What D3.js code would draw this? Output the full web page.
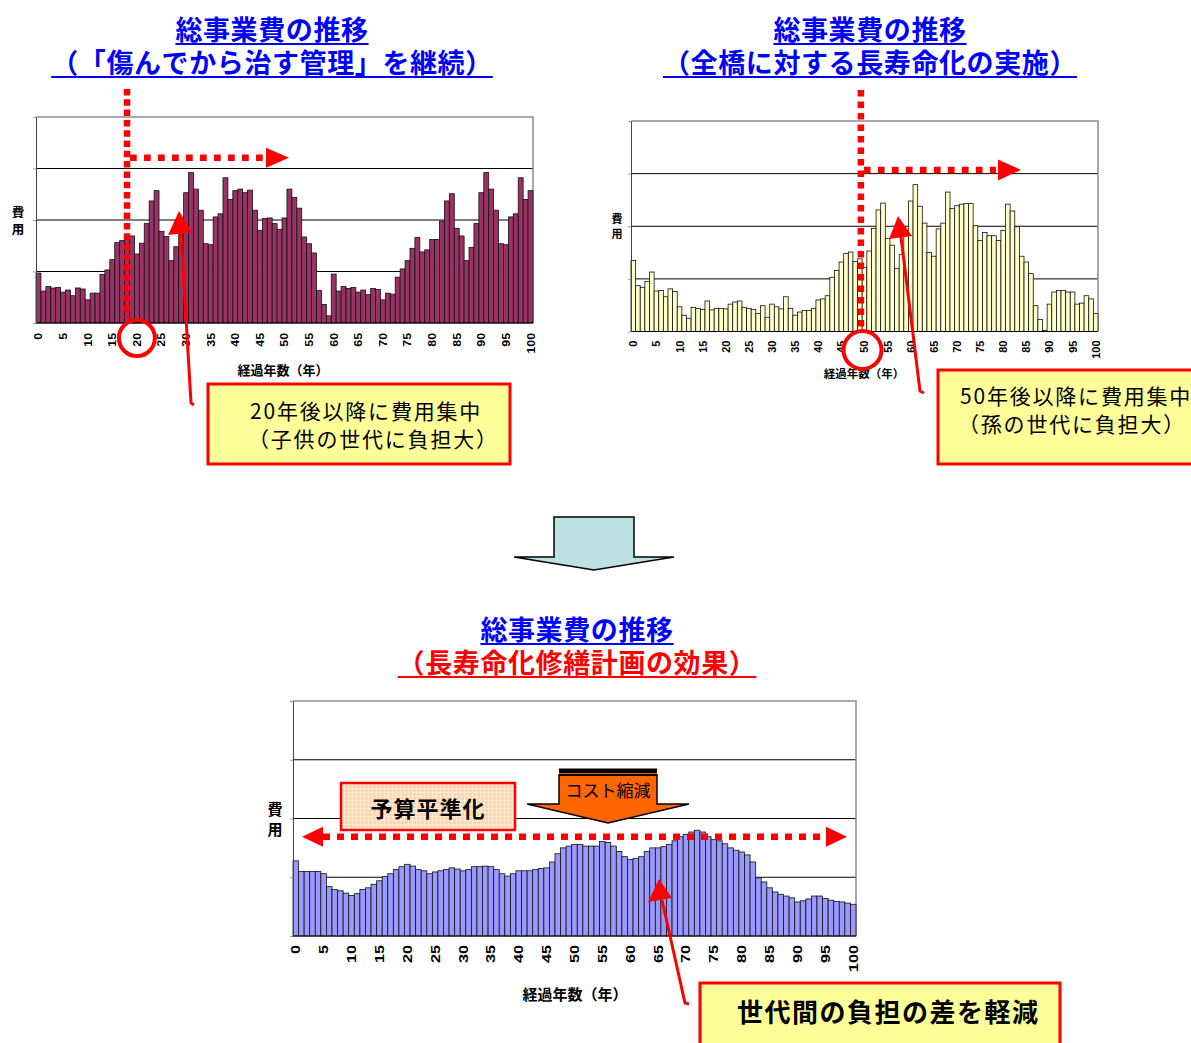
<!DOCTYPE html>
<html>
<head>
<meta charset="utf-8">
<script src="https://cdn.jsdelivr.net/npm/d3@7"></script>
<style>
  body { margin: 0; background: #fff; }
  svg { display: block; }
  text { text-spacing-trim: space-all; font-kerning: none; }
</style>
</head>
<body>
<script>
// years 0..100 on every chart
const years = d3.range(0, 101);
const tickYears = [0, 5, 10, 15, 20, 25, 30, 35, 40, 45, 50, 55, 60, 65, 70, 75, 80, 85, 90, 95, 100];
const gridLevels = [1, 2, 3];

// 傷んでから治す管理を継続 (units = grid steps)
const costRepair = [
  0.97, 0.62, 0.71, 0.68, 0.69, 0.60, 0.64, 0.53, 0.68, 0.66,
  0.45, 0.58, 0.58, 0.94, 1.03, 1.23, 1.56, 1.60, 1.67, 1.69,
  1.34, 1.55, 1.93, 2.37, 2.57, 1.78, 1.68, 1.21, 1.48, 1.93,
  2.53, 2.92, 2.60, 2.19, 1.54, 1.52, 2.06, 2.12, 2.82, 2.40,
  2.57, 2.60, 2.53, 2.58, 2.19, 1.80, 2.03, 2.04, 1.93, 1.82,
  2.04, 2.60, 2.44, 2.23, 1.67, 1.54, 1.36, 0.63, 0.36, 0.14,
  0.95, 0.62, 0.71, 0.67, 0.69, 0.60, 0.64, 0.55, 0.67, 0.65,
  0.45, 0.58, 0.56, 0.89, 1.05, 1.21, 1.45, 1.66, 1.38, 1.42,
  1.62, 1.62, 1.98, 2.37, 2.51, 1.84, 1.69, 1.21, 1.47, 1.93,
  2.53, 2.92, 2.60, 2.19, 1.54, 1.52, 2.06, 2.12, 2.82, 2.40, 2.57
];

// 全橋に対する長寿命化の実施
const costLongLife = [
  1.35, 0.87, 0.84, 0.95, 1.13, 0.77, 0.78, 0.66, 0.81, 0.76,
  0.47, 0.31, 0.25, 0.46, 0.44, 0.42, 0.58, 0.41, 0.44, 0.44,
  0.43, 0.52, 0.56, 0.58, 0.46, 0.44, 0.42, 0.34, 0.49, 0.27,
  0.52, 0.47, 0.43, 0.66, 0.44, 0.31, 0.37, 0.40, 0.40, 0.44,
  0.60, 0.62, 0.68, 1.03, 1.16, 1.32, 1.48, 1.51, 1.33, 1.38,
  1.22, 1.53, 1.96, 2.31, 2.44, 1.77, 1.64, 1.20, 1.46, 1.85,
  2.48, 2.79, 2.38, 2.06, 1.50, 1.43, 1.95, 2.06, 2.65, 2.34,
  2.39, 2.42, 2.43, 2.43, 2.01, 1.73, 1.88, 1.82, 1.82, 1.73,
  1.92, 2.42, 2.29, 1.99, 1.43, 1.32, 1.10, 0.49, 0.23, 0.02,
  0.52, 0.75, 0.78, 0.78, 0.75, 0.75, 0.52, 0.54, 0.68, 0.62, 0.34
];

// 長寿命化修繕計画の効果
const costPlan = [
  1.28, 1.10, 1.10, 1.10, 1.10, 1.06, 0.84, 0.79, 0.77, 0.73,
  0.69, 0.72, 0.79, 0.82, 0.88, 0.94, 1.01, 1.06, 1.13, 1.18,
  1.22, 1.19, 1.13, 1.11, 1.06, 1.09, 1.11, 1.13, 1.16, 1.14,
  1.11, 1.13, 1.18, 1.18, 1.19, 1.18, 1.13, 1.06, 1.02, 1.06,
  1.11, 1.11, 1.11, 1.13, 1.15, 1.16, 1.26, 1.40, 1.50, 1.53,
  1.56, 1.56, 1.53, 1.53, 1.53, 1.61, 1.59, 1.53, 1.44, 1.35,
  1.30, 1.32, 1.35, 1.44, 1.50, 1.50, 1.52, 1.56, 1.62, 1.69,
  1.73, 1.77, 1.80, 1.77, 1.69, 1.64, 1.62, 1.57, 1.50, 1.46,
  1.43, 1.38, 1.26, 0.99, 0.92, 0.82, 0.75, 0.71, 0.68, 0.65,
  0.58, 0.60, 0.63, 0.68, 0.68, 0.64, 0.61, 0.59, 0.58, 0.56, 0.54
];

const cjk = "'Noto Sans CJK JP', sans-serif";
const latin = "'Liberation Sans', Arial, sans-serif";
const red = "#ff0000";

const svg = d3.select("body").append("svg")
  .attr("width", 1191)
  .attr("height", 1043);

const defs = svg.append("defs");
let pat = defs.append("pattern")
  .attr("id", "grid")
  .attr("width", 4).attr("height", 4)
  .attr("patternUnits", "userSpaceOnUse");
pat.append("rect").attr("width", 4).attr("height", 4).style("fill", "#ffd6aa");
pat.append("path").attr("d", "M0,0.5H4M0.5,0V4")
  .style("stroke", "#ffe9d2").style("stroke-width", 1);

function title(cx, y, str, color) {
  let t = svg.append("text")
    .attr("x", cx).attr("y", y)
    .attr("text-anchor", "middle")
    .style("font-family", cjk).style("font-weight", 700)
    .style("font-size", "27px").style("letter-spacing", "0.6px")
    .style("fill", color)
    .text(str);
  let w = t.node().getComputedTextLength();
  svg.append("line")
    .attr("x1", cx - w / 2).attr("x2", cx + w / 2)
    .attr("y1", y + 4).attr("y2", y + 4)
    .style("stroke", color).style("stroke-width", 2);
}

function drawChart(o) {
  let x = d3.scaleBand().domain(years).range([o.left, o.right]).padding(0);
  let y = d3.scaleLinear().domain([0, 4]).range([o.bottom, o.top]);
  let g = svg.append("g");

  g.selectAll("line.grid")
    .data(gridLevels)
    .enter().append("line")
    .attr("x1", o.left).attr("x2", o.right)
    .attr("y1", d => y(d)).attr("y2", d => y(d))
    .style("stroke", "#000").style("stroke-width", 1);

  g.append("path")
    .attr("d", "M" + o.left + "," + y(4) + "H" + o.right + "V" + y(0))
    .style("fill", "none").style("stroke", "#8c8c8c").style("stroke-width", 1.5);

  g.selectAll("rect.bar")
    .data(o.values)
    .enter().append("rect")
    .attr("x", (d, i) => x(years[i]))
    .attr("width", x.bandwidth())
    .attr("y", d => y(d))
    .attr("height", d => y(0) - y(d))
    .style("fill", o.color)
    .style("stroke", "#111")
    .style("stroke-width", 0.8);

  g.append("line")
    .attr("x1", o.left).attr("x2", o.right)
    .attr("y1", y(0)).attr("y2", y(0))
    .style("stroke", "#000").style("stroke-width", 1);

  let ax = g.append("g")
    .attr("transform", "translate(" + o.left + ",0)")
    .call(d3.axisLeft(y).tickValues([0, 1, 2, 3, 4]).tickSize(3).tickSizeOuter(0).tickFormat(""));
  ax.select(".domain").style("stroke", "#444");
  ax.selectAll(".tick line").style("stroke", "#999");

  g.selectAll("text.xt")
    .data(tickYears)
    .enter().append("text")
    .attr("transform", d => "translate(" + (x(d) + x.bandwidth() / 2) + "," + (o.bottom + o.labelGap) + ") rotate(-90) scale(" + o.stretch + ",1)")
    .attr("text-anchor", "end")
    .attr("dy", "0.36em")
    .style("font-family", latin).style("font-weight", 700)
    .style("font-size", o.tickSize + "px")
    .text(d => d);

  g.append("text")
    .attr("x", o.axisTitle[0]).attr("y", o.axisTitle[1])
    .attr("text-anchor", "middle")
    .style("font-family", cjk).style("font-weight", 700)
    .style("font-size", o.axisTitle[2] + "px")
    .text("経過年数（年）");

  ["費", "用"].forEach((c, i) => {
    g.append("text")
      .attr("x", o.yLabel[0]).attr("y", o.yLabel[1] + i * o.yLabel[3])
      .attr("text-anchor", "middle")
      .style("font-family", cjk).style("font-weight", 700)
      .style("font-size", o.yLabel[2] + "px")
      .text(c);
  });

  return [x, y];
}

function dotted(x1, y1, x2, y2, dash) {
  svg.append("line")
    .attr("x1", x1).attr("y1", y1).attr("x2", x2).attr("y2", y2)
    .style("stroke", red).style("stroke-width", 6.5)
    .style("stroke-dasharray", dash);
}

function tri(points) {
  svg.append("polygon")
    .attr("points", points.map(p => p.join(",")).join(" "))
    .style("fill", red);
}

function pointer(pts, head) {
  svg.append("polyline")
    .attr("points", pts.map(p => p.join(",")).join(" "))
    .style("fill", "none").style("stroke", red).style("stroke-width", 3);
  tri(head);
}

function callout(x0, y0, w, h, lines, size, weight, spacing) {
  svg.append("rect")
    .attr("x", x0).attr("y", y0).attr("width", w).attr("height", h)
    .style("fill", "#ffff99").style("stroke", red).style("stroke-width", 3);
  lines.forEach(l => {
    svg.append("text")
      .attr("x", l[0]).attr("y", l[1])
      .style("font-family", cjk).style("font-weight", weight)
      .style("font-size", size + "px").style("letter-spacing", spacing + "px")
      .text(l[2]);
  });
}

// ---- chart 1
title(272, 40, "総事業費の推移", "#0000ff");
title(272, 73, "（「傷んでから治す管理」を継続）", "#0000ff");
let [x1, y1] = drawChart({
  left: 36, right: 533, top: 117, bottom: 323,
  values: costRepair, color: "#993366",
  labelGap: 10, tickSize: 11, stretch: 1.12,
  axisTitle: [283, 375, 13], yLabel: [18, 217, 12.5, 17]
});
let vx1 = x1(18) + x1.bandwidth() / 2;
dotted(vx1, 89, vx1, 318, "6.5,3.8");
dotted(vx1 + 3, y1(3.21), 266, y1(3.21), "6.7,7.3");
tri([[266, y1(3.21) - 10], [289, y1(3.21)], [266, y1(3.21) + 10]]);
svg.append("circle")
  .attr("cx", x1(20) + x1.bandwidth() / 2).attr("cy", 338).attr("r", 18)
  .style("fill", "none").style("stroke", red).style("stroke-width", 4);
pointer([[181, 232], [191, 403], [194, 405]], [[179, 211], [168, 235], [192, 232]]);
callout(208, 384, 302, 80, [[250, 419, "20年後以降に費用集中"], [248, 447, "（子供の世代に負担大）"]], 21, 400, 1.8);

// ---- chart 2
title(870, 40, "総事業費の推移", "#0000ff");
title(870, 73, "（全橋に対する長寿命化の実施）", "#0000ff");
let [x2, y2] = drawChart({
  left: 631, right: 1098, top: 121, bottom: 331.5,
  values: costLongLife, color: "#ffffcc",
  labelGap: 9, tickSize: 11, stretch: 1,
  axisTitle: [864, 378, 11.5], yLabel: [617, 223, 11, 15]
});
let vx2 = x2(49) + x2.bandwidth() / 2 + 1;
dotted(vx2, 90, vx2, 330, "6.5,5");
dotted(vx2 + 3, y2(3.07), 996, y2(3.07), "6.7,7.3");
tri([[998, y2(3.07) - 10.5], [1021, y2(3.07)], [998, y2(3.07) + 10.5]]);
svg.append("circle")
  .attr("cx", x2(50) + x2.bandwidth() / 2 - 2).attr("cy", 350).attr("r", 19)
  .style("fill", "none").style("stroke", red).style("stroke-width", 4);
pointer([[901, 237], [920, 391], [924, 393]], [[898, 216], [889, 239], [912, 236]]);
callout(938, 370, 260, 94, [[960, 404, "50年後以降に費用集中"], [958, 432, "（孫の世代に負担大）"]], 21, 400, 1.8);

// ---- middle arrow
svg.append("polygon")
  .attr("points", "554,517 634,517 634,557 674,557 594,570 514,557 554,557")
  .style("fill", "#bde0e3").style("stroke", "#000").style("stroke-width", 1.5);

// ---- chart 3
title(577, 640, "総事業費の推移", "#0000ff");
title(577, 673, "（長寿命化修繕計画の効果）", red);
let [x3, y3] = drawChart({
  left: 293, right: 856, top: 701, bottom: 936,
  values: costPlan, color: "#9999ff",
  labelGap: 9, tickSize: 12.5, stretch: 1.3,
  axisTitle: [575, 1000, 15], yLabel: [275, 815, 15, 20]
});

// 予算平準化 box
svg.append("rect")
  .attr("x", 341).attr("y", 783).attr("width", 174).attr("height", 47)
  .style("fill", "url(#grid)").style("stroke", red).style("stroke-width", 2.5);
svg.append("text")
  .attr("x", 428).attr("y", 817).attr("text-anchor", "middle")
  .style("font-family", cjk).style("font-weight", 700)
  .style("font-size", "22px").style("letter-spacing", "1px")
  .text("予算平準化");

// コスト縮減 arrow
svg.append("polygon")
  .attr("points", "559,775 657,775 657,804 689,804 608,823 527,804 559,804")
  .style("fill", "#ff6600").style("stroke", "#000").style("stroke-width", 1.5);
svg.append("rect")
  .attr("x", 559).attr("y", 768.5).attr("width", 98).attr("height", 7.5)
  .style("fill", "#000");
svg.append("line")
  .attr("x1", 559).attr("x2", 657).attr("y1", 773.6).attr("y2", 773.6)
  .style("stroke", "#ff6600").style("stroke-width", 1);
svg.append("text")
  .attr("x", 608).attr("y", 797).attr("text-anchor", "middle")
  .style("font-family", cjk).style("font-size", "17px")
  .text("コスト縮減");

// double-headed dotted arrow
let hy = y3(1.69);
dotted(323, hy, 826, hy, "7,7");
tri([[323, hy - 10], [302, hy], [323, hy + 10]]);
tri([[826, hy - 10], [847, hy], [826, hy + 10]]);

pointer([[662, 900], [685, 1003], [689, 1004]], [[659, 879], [648, 902], [672, 898]]);
callout(700, 983, 360, 70, [[737, 1022, "世代間の負担の差を軽減"]], 26, 700, 1.5);
</script>
</body>
</html>
